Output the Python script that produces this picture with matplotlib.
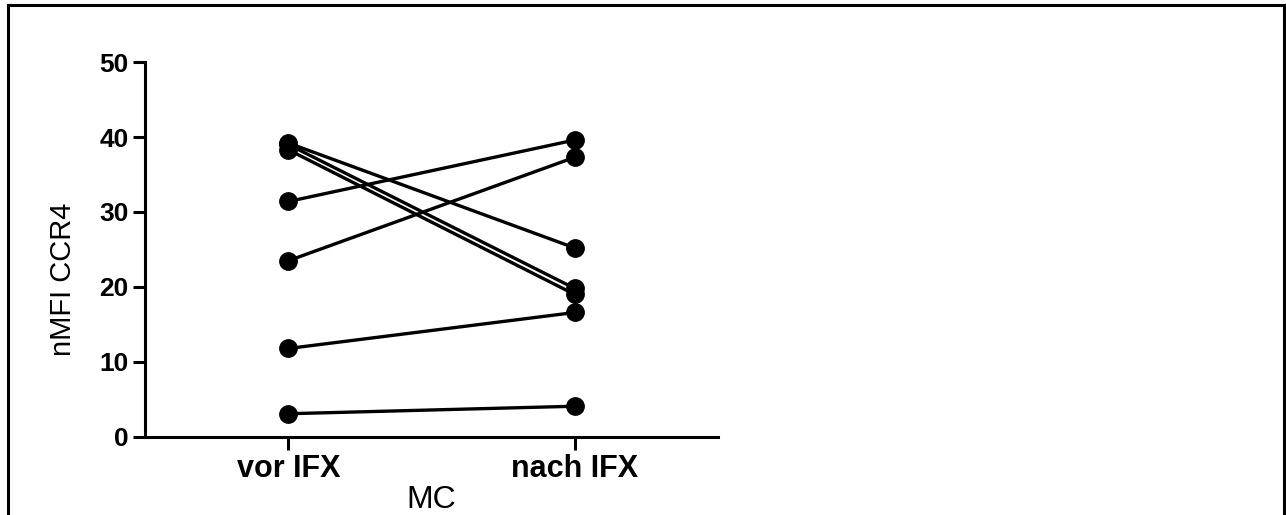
import matplotlib
matplotlib.use("Agg")
import matplotlib.pyplot as plt
from matplotlib.lines import Line2D

plt.rcParams['font.family'] = ['Liberation Sans', 'DejaVu Sans']

groups = ["vor IFX", "nach IFX"]
vor_ifx = [39.2, 39.0, 38.3, 31.4, 23.5, 11.8, 3.1]
nach_ifx = [25.2, 19.8, 19.0, 39.6, 37.3, 16.6, 4.1]
y_ticks = [0, 10, 20, 30, 40, 50]

fig = plt.figure(figsize=(12.86, 5.15), dpi=100)
ax = fig.add_axes([0.1128, 0.1515, 0.4456, 0.7281])

for a, b in zip(vor_ifx, nach_ifx):
    ax.plot([0, 1], [a, b], color="black", lw=2.4, marker="o",
            markersize=12.5, solid_capstyle="butt")

ax.set_xlim(-0.5, 1.5)
ax.set_ylim(0, 50)
ax.set_xticks([0, 1])
ax.set_xticklabels(groups, fontsize=22, fontweight="bold")
ax.set_yticks(y_ticks)
ax.set_yticklabels([str(t) for t in y_ticks], fontsize=19, fontweight="bold")

for s in ["top", "right"]:
    ax.spines[s].set_visible(False)
for s in ["left", "bottom"]:
    ax.spines[s].set_linewidth(2.2)
ax.tick_params(axis="both", direction="out", length=9, width=2.2, pad=3)
ax.tick_params(axis="x", pad=3)

ax.set_ylabel("nMFI CCR4", fontsize=21)
ax.yaxis.set_label_coords(-0.118, 0.42)
ax.set_xlabel("MC", fontsize=23, labelpad=1)

# outer frame (bottom edge is cut off in the original)
fw = 2.2
fig.add_artist(Line2D([8 / 1286, 8 / 1286], [0, 1 - 5 / 515], transform=fig.transFigure, color="black", lw=fw))
fig.add_artist(Line2D([1284 / 1286, 1284 / 1286], [0, 1 - 5 / 515], transform=fig.transFigure, color="black", lw=fw))
fig.add_artist(Line2D([8 / 1286, 1284 / 1286], [1 - 5 / 515, 1 - 5 / 515], transform=fig.transFigure, color="black", lw=fw))

fig.savefig("out.png", dpi=100)
